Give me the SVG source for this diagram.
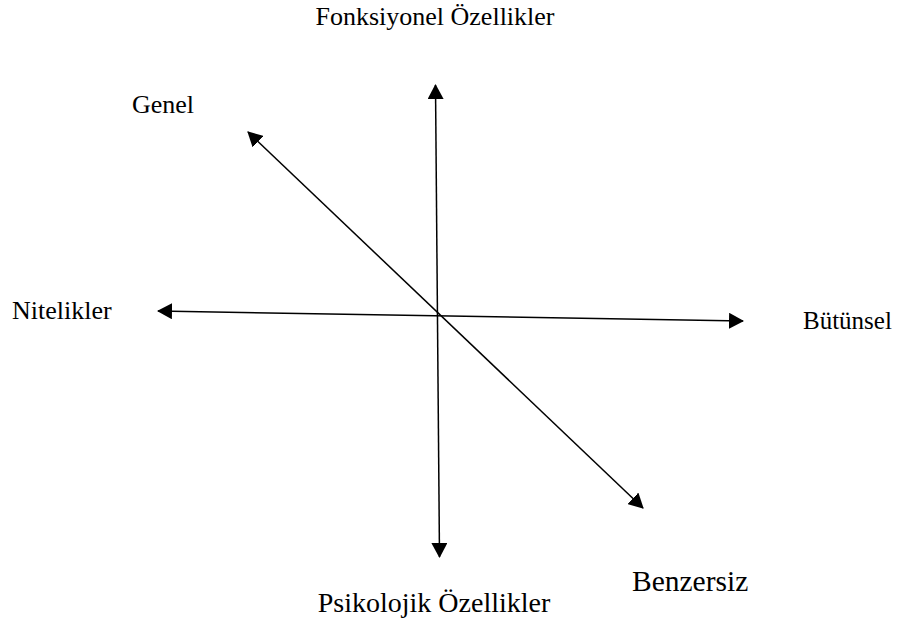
<svg xmlns="http://www.w3.org/2000/svg" width="900" height="631" viewBox="0 0 900 631">
<defs>
<style>
.lbl{font-family:"Liberation Serif","Times New Roman",serif;font-size:26px;fill:#000}
.ax{stroke:#000;stroke-width:1.5;fill:none;marker-start:url(#ah);marker-end:url(#ah)}
</style>
<marker id="ah" markerUnits="userSpaceOnUse" markerWidth="15" markerHeight="16" refX="14" refY="8" orient="auto-start-reverse">
<path d="M0,0 L15,8 L0,16 z" fill="#000"/>
</marker>
</defs>
<rect width="900" height="631" fill="#fff"/>
<g id="connectors">
<line class="ax" x1="439.5" y1="557" x2="435.5" y2="85"/>
<line class="ax" x1="743" y1="321" x2="158" y2="311"/>
<line class="ax" x1="643" y1="508" x2="248" y2="132"/>
</g>
<g id="top"><text class="lbl" x="435" y="25" text-anchor="middle">Fonksiyonel Özellikler</text></g>
<g id="genel"><text class="lbl" x="132" y="113">Genel</text></g>
<g id="nitelikler"><text class="lbl" x="12" y="319">Nitelikler</text></g>
<g id="butunsel"><text class="lbl" x="803" y="329" style="font-size:25px">Bütünsel</text></g>
<g id="benzersiz"><text class="lbl" x="632" y="591" style="font-size:29.5px">Benzersiz</text></g>
<g id="bottom"><text class="lbl" x="434" y="612" text-anchor="middle" style="font-size:28px">Psikolojik Özellikler</text></g>
</svg>
